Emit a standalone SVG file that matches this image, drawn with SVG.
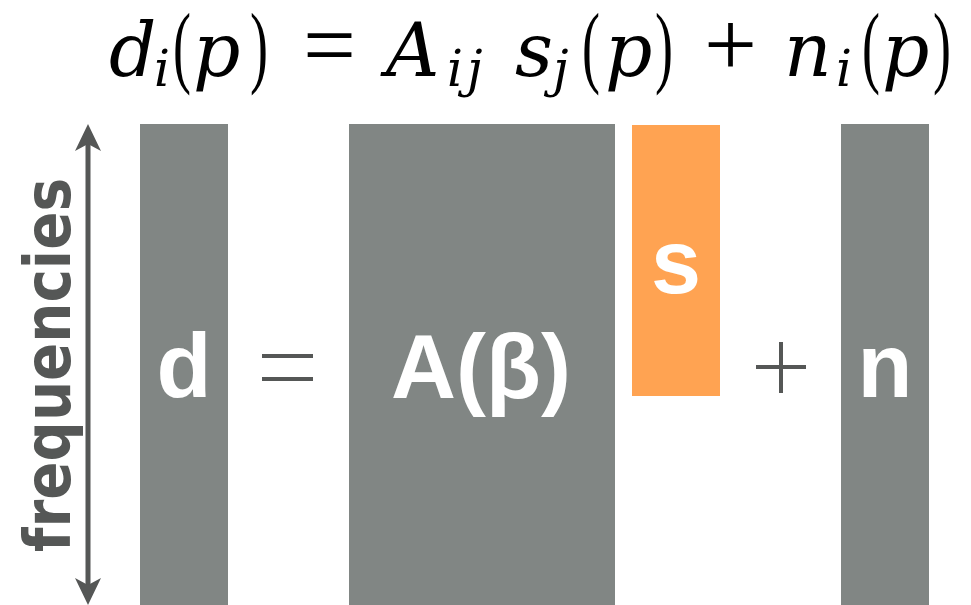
<svg xmlns="http://www.w3.org/2000/svg" width="971" height="605" viewBox="0 0 971 605">
<style>
.bar{fill:#818684}
.src{fill:#FFA352}
.lbl{font-family:"Liberation Sans","DejaVu Sans",sans-serif;font-weight:bold;font-size:90px;fill:#ffffff;text-anchor:middle}
.op{stroke:#555756;stroke-width:4;fill:none}
.eq{font-family:"Liberation Serif","DejaVu Serif",serif;font-size:86px;fill:#000000}
.it{font-family:"DejaVu Serif",serif;font-style:italic;font-size:74px}
.sub{font-size:50px}
.par{font-size:90px}
.big{font-size:94px}
</style>
<rect width="971" height="605" fill="#ffffff"/>
<g id="equation">
<text class="eq it" x="109" y="76">d</text>
<text class="eq it sub" x="154" y="86">i</text>
<text class="eq par" transform="translate(173,76) scale(0.6,1)">(</text>
<text class="eq it" x="193" y="76">p</text>
<text class="eq par" transform="translate(250,76) scale(0.6,1)">)</text>
<text class="eq big" x="303" y="76">=</text>
<text class="eq it" x="386" y="76">A</text>
<text class="eq it sub" x="447" y="86">i</text>
<text class="eq it sub" x="467" y="86">j</text>
<text class="eq it" x="515" y="76">s</text>
<text class="eq it sub" x="553" y="86">j</text>
<text class="eq par" transform="translate(582,76) scale(0.6,1)">(</text>
<text class="eq it" x="605" y="76">p</text>
<text class="eq par" transform="translate(655,76) scale(0.6,1)">)</text>
<text class="eq big" x="704" y="76">+</text>
<text class="eq it" x="784" y="76">n</text>
<text class="eq it sub" x="836" y="86">i</text>
<text class="eq par" transform="translate(862,76) scale(0.6,1)">(</text>
<text class="eq it" x="882" y="76">p</text>
<text class="eq par" transform="translate(933,76) scale(0.6,1)">)</text>
</g>
<g id="connectors">
<line x1="88" y1="140" x2="88" y2="590" stroke="#555756" stroke-width="5"/>
<polygon points="88,124 101,151 88,144 75,151" fill="#555756"/>
<polygon points="88,605 75,578 88,585 101,578" fill="#555756"/>
</g>
<g id="axis-label">
<text transform="translate(70,552) rotate(-90)" x="0" y="0" textLength="374" lengthAdjust="spacingAndGlyphs" style="font-family:'DejaVu Sans',sans-serif;font-weight:bold;font-size:64px;fill:#555756">frequencies</text>
</g>
<g id="node-d">
<rect class="bar" x="140" y="124" width="88" height="481"/>
<text class="lbl" x="184" y="397">d</text>
</g>
<g id="equals">
<line class="op" x1="262" y1="356" x2="313" y2="356"/>
<line class="op" x1="262" y1="379" x2="313" y2="379"/>
</g>
<g id="node-A">
<rect class="bar" x="349" y="124" width="266" height="481"/>
<text class="lbl" x="481" y="398">A(β)</text>
</g>
<g id="node-s">
<rect class="src" x="632" y="125" width="88" height="271"/>
<text class="lbl" x="676" y="293">s</text>
</g>
<g id="plus">
<line class="op" x1="756" y1="367" x2="806" y2="367"/>
<line class="op" x1="781" y1="342" x2="781" y2="393"/>
</g>
<g id="node-n">
<rect class="bar" x="841" y="124" width="88" height="481"/>
<text class="lbl" x="885" y="397">n</text>
</g>
</svg>
